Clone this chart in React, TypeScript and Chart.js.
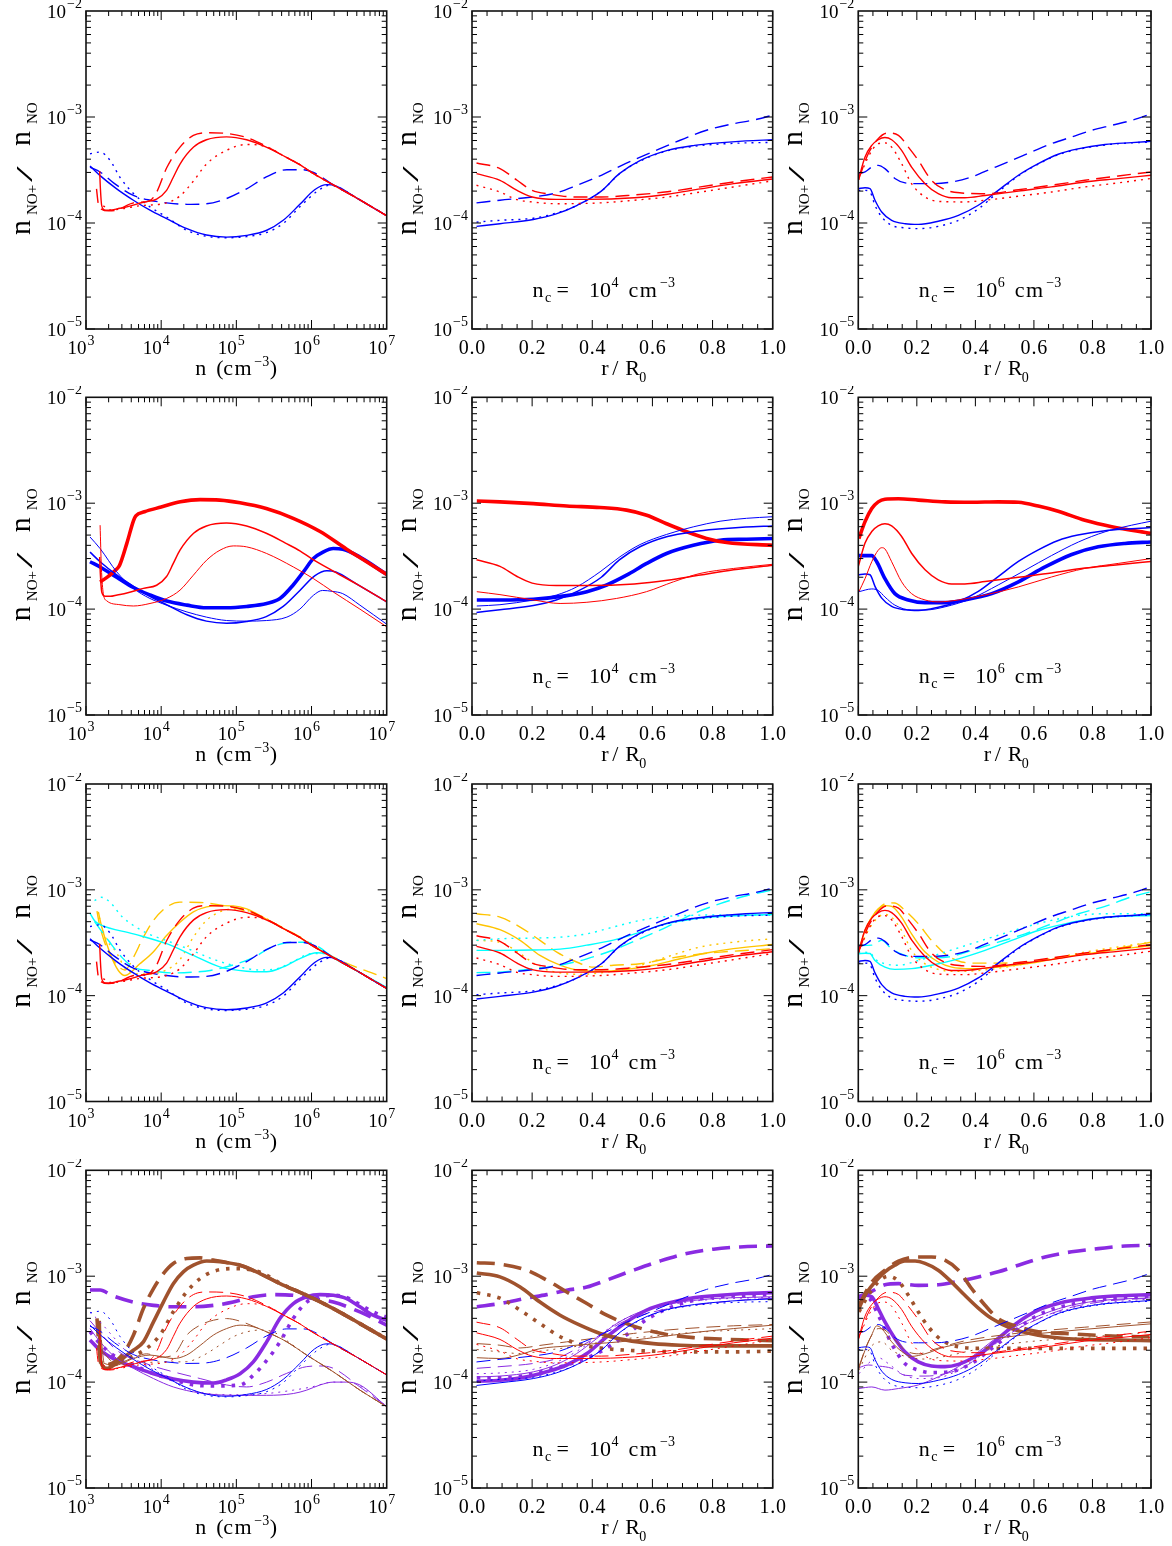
import { useEffect, useRef } from "react";
import { Chart, registerables } from "chart.js";

Chart.register(...registerables);

type Pt = [number, number];

// ---------------- colours ----------------
const RED = "#ff0000";
const BLUE = "#0000ff";
const CYAN = "#00ffff";
const GOLD = "#ffc400";
const BROWN = "#a0522d";
const PURPLE = "#8a2be2";

// ---------------- ticks / labels ----------------
const yMajorExps = [-5, -4, -3, -2];
const xLogMajorExps = [3, 4, 5, 6, 7];
const xLinMajor = [0, 0.2, 0.4, 0.6, 0.8, 1.0];
const xLinLabels = ["0.0", "0.2", "0.4", "0.6", "0.8", "1.0"];
const ncExponents = ["4", "6"];

// ================= Row 1 / shared red-blue =================
const p11RedSolid: Pt[] = [[1.52e3,3.1e-4],[1.55e3,2.2e-4],[1.62e3,1.45e-4],[1.8e3,1.32e-4],[2.1e3,1.32e-4],[2.6e3,1.36e-4],[3.5e3,1.42e-4],[5.8e3,1.57e-4],[8.7e3,1.68e-4],[1.18e4,2.03e-4],[1.45e4,2.7e-4],[1.78e4,3.6e-4],[2.7e4,5.2e-4],[4e4,6.1e-4],[7.4e4,6.5e-4],[1.37e5,6.1e-4],[2.5e5,5.2e-4],[4.5e5,4.2e-4],[7e5,3.55e-4],[1e6,3.0e-4],[2e6,2.26e-4],[4e6,1.72e-4],[1e7,1.17e-4]];
const p11RedDash: Pt[] = [[1.38e3,2.1e-4],[1.45e3,1.55e-4],[1.6e3,1.35e-4],[2e3,1.3e-4],[2.6e3,1.33e-4],[4.3e3,1.55e-4],[7e3,1.62e-4],[8.7e3,1.95e-4],[1.18e4,3.3e-4],[1.78e4,5.2e-4],[2.68e4,6.7e-4],[4e4,7.1e-4],[7.4e4,7.0e-4],[1.37e5,6.4e-4],[2.5e5,5.3e-4],[4.5e5,4.2e-4],[7e5,3.55e-4],[1e6,3.0e-4],[2e6,2.26e-4],[4e6,1.72e-4],[1e7,1.17e-4]];
const p11RedDot: Pt[] = [[1.7e3,1.45e-4],[2.1e3,1.33e-4],[3e3,1.36e-4],[5e3,1.45e-4],[1.18e4,1.55e-4],[1.78e4,1.8e-4],[2.7e4,2.5e-4],[4e4,3.6e-4],[7.4e4,4.85e-4],[1.37e5,5.5e-4],[2.5e5,5.25e-4],[4.5e5,4.2e-4],[7e5,3.55e-4],[1e6,3.0e-4],[2e6,2.26e-4],[4e6,1.72e-4],[1e7,1.17e-4]];
const p11BlueSolid: Pt[] = [[1.13e3,3.45e-4],[1.54e3,2.8e-4],[2.56e3,2.1e-4],[4.27e3,1.64e-4],[7.1e3,1.32e-4],[1.18e4,1.1e-4],[2.2e4,8.85e-5],[4e4,7.7e-5],[7.4e4,7.35e-5],[1.37e5,7.65e-5],[2.5e5,8.5e-5],[4.2e5,1.06e-4],[7e5,1.5e-4],[1.1e6,2.06e-4],[1.6e6,2.3e-4],[2.1e6,2.24e-4],[4e6,1.72e-4],[1e7,1.17e-4]];
const p11BlueDot: Pt[] = [[1.13e3,4.5e-4],[1.54e3,4.67e-4],[2.09e3,3.9e-4],[2.83e3,2.7e-4],[4.27e3,1.9e-4],[7.1e3,1.42e-4],[1.18e4,1.14e-4],[2.2e4,8.5e-5],[4e4,7.5e-5],[7.4e4,7.25e-5],[1.37e5,7.45e-5],[2.5e5,8.1e-5],[4.2e5,9.9e-5],[7e5,1.42e-4],[1.2e6,2.0e-4],[1.75e6,2.27e-4],[2.2e6,2.2e-4],[4e6,1.72e-4],[1e7,1.17e-4]];
const p11BlueDash: Pt[] = [[1.13e3,3.37e-4],[1.54e3,3.03e-4],[2.4e3,2.35e-4],[4.27e3,1.82e-4],[7.1e3,1.64e-4],[1.18e4,1.55e-4],[2.2e4,1.5e-4],[4e4,1.52e-4],[7.4e4,1.7e-4],[1.37e5,2.1e-4],[2.5e5,2.72e-4],[4.7e5,3.18e-4],[7.8e5,3.18e-4],[1.06e6,3.0e-4],[2e6,2.26e-4],[4e6,1.72e-4],[1e7,1.17e-4]];

const p12RedSolid: Pt[] = [[0.015,2.92e-4],[0.093,2.53e-4],[0.15,2.03e-4],[0.2,1.76e-4],[0.28,1.67e-4],[0.38,1.67e-4],[0.54,1.73e-4],[0.65,1.87e-4],[0.76,2.1e-4],[0.87,2.35e-4],[1.0,2.6e-4]];
const p12RedDash: Pt[] = [[0.015,3.68e-4],[0.093,3.26e-4],[0.15,2.53e-4],[0.2,2.03e-4],[0.26,1.87e-4],[0.34,1.76e-4],[0.43,1.76e-4],[0.54,1.84e-4],[0.65,1.97e-4],[0.76,2.19e-4],[0.87,2.44e-4],[1.0,2.72e-4]];
const p12RedDot: Pt[] = [[0.015,2.27e-4],[0.093,1.96e-4],[0.15,1.66e-4],[0.2,1.58e-4],[0.28,1.52e-4],[0.43,1.55e-4],[0.54,1.64e-4],[0.65,1.76e-4],[0.76,1.96e-4],[0.87,2.19e-4],[1.0,2.5e-4]];
const p12BlueSolid: Pt[] = [[0.015,9.3e-5],[0.093,9.85e-5],[0.204,1.08e-4],[0.28,1.22e-4],[0.35,1.47e-4],[0.43,2.0e-4],[0.49,2.92e-4],[0.56,3.9e-4],[0.65,4.85e-4],[0.74,5.4e-4],[0.82,5.7e-4],[0.91,5.95e-4],[1.0,6.1e-4]];
const p12BlueDot: Pt[] = [[0.015,1.02e-4],[0.093,1.06e-4],[0.204,1.11e-4],[0.28,1.24e-4],[0.35,1.47e-4],[0.43,2.0e-4],[0.49,2.9e-4],[0.56,3.85e-4],[0.65,4.8e-4],[0.74,5.3e-4],[0.82,5.55e-4],[0.91,5.7e-4],[1.0,5.75e-4]];
const p12BlueDash: Pt[] = [[0.015,1.55e-4],[0.093,1.64e-4],[0.2,1.76e-4],[0.28,1.92e-4],[0.35,2.27e-4],[0.43,2.82e-4],[0.51,3.63e-4],[0.6,4.68e-4],[0.69,6.0e-4],[0.78,7.5e-4],[0.87,8.65e-4],[0.94,9.4e-4],[1.0,1.04e-3]];

const p13RedSolid: Pt[] = [[0,2.53e-4],[0.023,4.2e-4],[0.046,5.4e-4],[0.068,6.1e-4],[0.091,6.4e-4],[0.114,6.1e-4],[0.148,4.85e-4],[0.182,3.37e-4],[0.228,2.35e-4],[0.273,1.89e-4],[0.319,1.73e-4],[0.364,1.73e-4],[0.433,1.82e-4],[0.547,2.0e-4],[0.66,2.19e-4],[0.774,2.44e-4],[0.888,2.62e-4],[1.0,2.82e-4]];
const p13RedDash: Pt[] = [[0,2.53e-4],[0.034,4.5e-4],[0.068,6.25e-4],[0.1,7.06e-4],[0.137,6.72e-4],[0.171,5.2e-4],[0.205,3.9e-4],[0.25,2.53e-4],[0.296,2.06e-4],[0.353,1.92e-4],[0.433,1.89e-4],[0.547,2.06e-4],[0.66,2.27e-4],[0.774,2.53e-4],[0.888,2.78e-4],[1.0,3.03e-4]];
const p13RedDot: Pt[] = [[0,2.53e-4],[0.034,4.2e-4],[0.068,5.6e-4],[0.091,5.7e-4],[0.114,5.2e-4],[0.148,3.63e-4],[0.182,2.35e-4],[0.228,1.76e-4],[0.273,1.6e-4],[0.364,1.58e-4],[0.433,1.64e-4],[0.547,1.79e-4],[0.66,1.96e-4],[0.774,2.19e-4],[0.888,2.39e-4],[1.0,2.63e-4]];
const p13BlueSolid: Pt[] = [[0,2.11e-4],[0.023,2.15e-4],[0.04,2.11e-4],[0.057,1.64e-4],[0.08,1.27e-4],[0.114,1.06e-4],[0.16,9.85e-5],[0.205,9.7e-5],[0.273,1.04e-4],[0.342,1.18e-4],[0.41,1.47e-4],[0.478,2.03e-4],[0.547,2.82e-4],[0.615,3.63e-4],[0.683,4.45e-4],[0.75,5.0e-4],[0.843,5.5e-4],[0.934,5.73e-4],[1.0,5.9e-4]];
const p13BlueDot: Pt[] = [[0,2.03e-4],[0.023,2.03e-4],[0.04,1.96e-4],[0.057,1.47e-4],[0.08,1.14e-4],[0.114,9.5e-5],[0.16,9.0e-5],[0.205,8.85e-5],[0.273,9.3e-5],[0.342,1.06e-4],[0.41,1.36e-4],[0.478,1.96e-4],[0.547,2.78e-4],[0.615,3.6e-4],[0.683,4.4e-4],[0.75,4.95e-4],[0.843,5.45e-4],[0.934,5.7e-4],[1.0,5.8e-4]];
const p13BlueDash: Pt[] = [[0,2.92e-4],[0.023,3.03e-4],[0.046,3.37e-4],[0.068,3.5e-4],[0.091,3.26e-4],[0.125,2.63e-4],[0.16,2.39e-4],[0.205,2.35e-4],[0.262,2.35e-4],[0.32,2.44e-4],[0.387,2.72e-4],[0.456,3.26e-4],[0.524,3.9e-4],[0.592,4.68e-4],[0.66,5.6e-4],[0.729,6.48e-4],[0.797,7.49e-4],[0.866,8.35e-4],[0.934,9.3e-4],[1.0,1.07e-3]];

// ================= Row 2 =================
const p21RedThick: Pt[] = [[1.54e3,1.8e-4],[2.0e3,2.05e-4],[2.5e3,2.35e-4],[2.8e3,2.6e-4],[3.5e3,4.2e-4],[4.3e3,6.9e-4],[4.6e3,7.6e-4],[6e3,8.3e-4],[1e4,9.2e-4],[1.8e4,1.03e-3],[3.3e4,1.08e-3],[6e4,1.07e-3],[1.12e5,1.01e-3],[2.5e5,8.9e-4],[5.7e5,7.2e-4],[1.3e6,5.4e-4],[2.9e6,3.7e-4],[5.4e6,2.8e-4],[1e7,2.12e-4]];
const p21RedThin: Pt[] = [[1.54e3,6.2e-4],[1.6e3,2.5e-4],[1.7e3,1.4e-4],[1.88e3,1.2e-4],[2.83e3,1.1e-4],[4.27e3,1.07e-4],[7.1e3,1.13e-4],[1.18e4,1.26e-4],[1.78e4,1.51e-4],[2.68e4,2.09e-4],[4.03e4,2.9e-4],[6.06e4,3.6e-4],[9.1e4,3.95e-4],[1.37e5,3.87e-4],[2.53e5,3.35e-4],[5.73e5,2.5e-4],[1.06e6,1.94e-4],[1.95e6,1.45e-4],[4.4e6,1.0e-4],[1e7,6.8e-5]];
const p21BlueThick: Pt[] = [[1.13e3,2.8e-4],[1.54e3,2.5e-4],[2.56e3,2.0e-4],[4.27e3,1.6e-4],[7.1e3,1.36e-4],[1.18e4,1.19e-4],[2.2e4,1.09e-4],[4e4,1.03e-4],[7.4e4,1.03e-4],[1.37e5,1.06e-4],[2.53e5,1.13e-4],[3.8e5,1.26e-4],[5.7e5,1.69e-4],[7.8e5,2.25e-4],[1.06e6,3.0e-4],[1.44e6,3.47e-4],[1.95e6,3.73e-4],[2.6e6,3.68e-4],[4.4e6,3.1e-4],[1e7,2.13e-4]];
const p21BlueThin: Pt[] = [[1.13e3,4.8e-4],[1.54e3,3.73e-4],[2.56e3,2.25e-4],[4.27e3,1.57e-4],[7.1e3,1.26e-4],[1.18e4,1.09e-4],[2.2e4,9.4e-5],[4e4,8.4e-5],[7.4e4,7.8e-5],[1.37e5,7.7e-5],[2.53e5,7.8e-5],[4.7e5,8.4e-5],[7e5,1.0e-4],[1.06e6,1.35e-4],[1.4e6,1.5e-4],[1.9e6,1.47e-4],[2.6e6,1.4e-4],[4.4e6,1.09e-4],[1e7,7.2e-5]];

const p22RedThick: Pt[] = [[0.016,1.05e-3],[0.093,1.03e-3],[0.204,9.9e-4],[0.315,9.4e-4],[0.426,9.1e-4],[0.514,8.6e-4],[0.581,7.7e-4],[0.647,6.4e-4],[0.714,5.37e-4],[0.78,4.65e-4],[0.847,4.25e-4],[1.0,4.0e-4]];
const p22RedThin: Pt[] = [[0.016,1.46e-4],[0.093,1.37e-4],[0.204,1.22e-4],[0.293,1.13e-4],[0.382,1.16e-4],[0.48,1.26e-4],[0.58,1.46e-4],[0.67,1.81e-4],[0.758,2.17e-4],[0.87,2.42e-4],[1.0,2.65e-4]];
const p22BlueThick: Pt[] = [[0.016,1.22e-4],[0.093,1.22e-4],[0.204,1.24e-4],[0.315,1.34e-4],[0.382,1.46e-4],[0.448,1.69e-4],[0.514,2.09e-4],[0.581,2.7e-4],[0.647,3.35e-4],[0.736,4.0e-4],[0.825,4.47e-4],[0.913,4.57e-4],[1.0,4.64e-4]];
const p22BlueThin: Pt[] = [[0.016,1.07e-4],[0.093,1.1e-4],[0.204,1.22e-4],[0.282,1.36e-4],[0.348,1.62e-4],[0.426,2.25e-4],[0.492,3.12e-4],[0.559,4.07e-4],[0.647,5.07e-4],[0.736,5.98e-4],[0.825,6.76e-4],[0.913,7.2e-4],[1.0,7.45e-4]];

const p23RedThick: Pt[] = [[0.002,4.64e-4],[0.023,6.7e-4],[0.046,8.9e-4],[0.068,1.03e-3],[0.091,1.09e-3],[0.137,1.1e-3],[0.205,1.07e-3],[0.296,1.03e-3],[0.387,1.02e-3],[0.478,1.03e-3],[0.547,1.02e-3],[0.615,9.4e-4],[0.683,8.4e-4],[0.774,6.9e-4],[0.866,6.0e-4],[1.0,5.2e-4]];
const p23RedThin: Pt[] = [[0.002,1.46e-4],[0.023,1.94e-4],[0.046,2.8e-4],[0.068,3.6e-4],[0.08,3.8e-4],[0.091,3.7e-4],[0.114,2.8e-4],[0.148,1.81e-4],[0.182,1.4e-4],[0.228,1.22e-4],[0.273,1.17e-4],[0.342,1.22e-4],[0.433,1.36e-4],[0.547,1.62e-4],[0.66,2.01e-4],[0.774,2.42e-4],[0.888,2.7e-4],[1.0,3.0e-4]];
const p23BlueThick: Pt[] = [[0.002,3.2e-4],[0.046,3.2e-4],[0.063,2.8e-4],[0.091,1.94e-4],[0.125,1.4e-4],[0.171,1.22e-4],[0.228,1.15e-4],[0.296,1.15e-4],[0.364,1.22e-4],[0.456,1.4e-4],[0.547,1.81e-4],[0.638,2.5e-4],[0.729,3.28e-4],[0.82,3.87e-4],[0.911,4.17e-4],[1.0,4.3e-4]];
const p23BlueThin: Pt[] = [[0.002,1.46e-4],[0.046,1.55e-4],[0.068,1.5e-4],[0.091,1.3e-4],[0.125,1.09e-4],[0.182,9.8e-5],[0.228,9.8e-5],[0.296,1.05e-4],[0.387,1.26e-4],[0.478,1.69e-4],[0.57,2.33e-4],[0.66,3.2e-4],[0.752,4.3e-4],[0.843,5.37e-4],[0.934,6.2e-4],[1.0,6.76e-4]];

// ================= Row 3 (cyan / gold) =================
const p31CyanSolid: Pt[] = [[1.13e3,6.0e-4],[1.3e3,5.1e-4],[1.54e3,4.7e-4],[4.27e3,3.84e-4],[1.18e4,3.1e-4],[2.68e4,2.4e-4],[6e4,1.87e-4],[1.37e5,1.7e-4],[2.53e5,1.68e-4],[4.2e5,1.87e-4],[7e5,2.24e-4],[1.17e6,2.54e-4],[1.5e6,2.5e-4],[2.2e6,2.2e-4],[4e6,1.72e-4],[1e7,1.2e-4]];
const p31CyanDash: Pt[] = [[1.3e3,5.0e-4],[2e3,3.3e-4],[3e3,2.3e-4],[4.27e3,1.86e-4],[7.1e3,1.73e-4],[1.5e4,1.64e-4],[2.7e4,1.67e-4],[4.5e4,1.73e-4],[9e4,1.95e-4],[1.7e5,2.3e-4],[3e5,2.9e-4],[5.7e5,3.2e-4],[8.5e5,3.2e-4],[1.17e6,2.96e-4],[2e6,2.26e-4],[4e6,1.72e-4],[1e7,1.17e-4]];
const p31CyanDot: Pt[] = [[1.3e3,7.9e-4],[1.6e3,8.5e-4],[2.1e3,7.6e-4],[3e3,5.6e-4],[4.5e3,4.5e-4],[7e3,3.8e-4],[1.2e4,3.3e-4],[2.5e4,2.7e-4],[5e4,2.2e-4],[1e5,1.9e-4],[2e5,1.75e-4],[3.5e5,1.8e-4],[6e5,2.15e-4],[1e6,2.5e-4],[1.5e6,2.5e-4],[2.2e6,2.2e-4],[4e6,1.72e-4],[1e7,1.18e-4]];
const p31GoldSolid: Pt[] = [[1.46e3,6.2e-4],[1.62e3,4.45e-4],[2.09e3,2.5e-4],[2.69e3,1.73e-4],[3.3e3,1.55e-4],[5.2e3,2.0e-4],[7.9e3,2.6e-4],[1.18e4,3.7e-4],[1.78e4,4.95e-4],[2.68e4,6.2e-4],[4.03e4,6.9e-4],[6.06e4,7.1e-4],[9.1e4,7.05e-4],[1.37e5,6.6e-4],[2.5e5,5.3e-4],[4.5e5,4.2e-4],[7e5,3.55e-4],[1e6,3.0e-4],[2e6,2.26e-4],[4e6,1.72e-4],[1e7,1.17e-4]];
const p31GoldDash: Pt[] = [[1.4e3,6.3e-4],[1.5e3,4.8e-4],[1.9e3,2.8e-4],[2.5e3,2.0e-4],[3.3e3,1.75e-4],[4.27e3,2.3e-4],[5.8e3,3.57e-4],[7.9e3,5.14e-4],[1.18e4,6.86e-4],[1.78e4,7.65e-4],[3.3e4,7.6e-4],[6e4,7.2e-4],[1e5,6.7e-4],[1.6e5,6.0e-4],[2.5e5,5.3e-4],[4.5e5,4.25e-4],[7e5,3.6e-4],[1e6,3.05e-4],[2e6,2.3e-4],[4e6,1.85e-4],[7e6,1.6e-4],[1e7,1.45e-4]];
const p31GoldDot: Pt[] = [[1.5e3,5.5e-4],[1.8e3,3.6e-4],[2.5e3,2.6e-4],[3.5e3,1.75e-4],[6e3,1.6e-4],[1.18e4,1.75e-4],[1.78e4,2.2e-4],[2.68e4,3.57e-4],[4e4,5.14e-4],[6.06e4,6.2e-4],[9.1e4,6.6e-4],[1.37e5,6.4e-4],[2.5e5,5.35e-4],[4.5e5,4.2e-4],[7e5,3.55e-4],[1e6,3.0e-4],[2e6,2.26e-4],[4e6,1.72e-4],[1e7,1.17e-4]];

const p32CyanSolid: Pt[] = [[0.015,2.68e-4],[0.093,2.68e-4],[0.204,2.7e-4],[0.293,2.75e-4],[0.382,3.0e-4],[0.47,3.35e-4],[0.559,3.98e-4],[0.647,4.77e-4],[0.736,5.3e-4],[0.825,5.6e-4],[0.913,5.75e-4],[1.0,5.85e-4]];
const p32CyanDash: Pt[] = [[0.015,1.65e-4],[0.093,1.67e-4],[0.204,1.8e-4],[0.293,1.94e-4],[0.382,2.23e-4],[0.47,2.7e-4],[0.559,3.45e-4],[0.647,4.45e-4],[0.736,5.94e-4],[0.825,7.4e-4],[0.913,8.8e-4],[1.0,1.0e-3]];
const p32CyanDot: Pt[] = [[0.015,3.33e-4],[0.093,3.45e-4],[0.2,3.5e-4],[0.293,3.57e-4],[0.382,3.84e-4],[0.47,4.45e-4],[0.559,5.14e-4],[0.647,5.6e-4],[0.736,5.75e-4],[0.825,5.8e-4],[0.913,5.8e-4],[1.0,5.75e-4]];
const p32GoldSolid: Pt[] = [[0.015,4.78e-4],[0.093,4.2e-4],[0.16,3.33e-4],[0.226,2.4e-4],[0.293,1.94e-4],[0.359,1.73e-4],[0.426,1.7e-4],[0.514,1.77e-4],[0.603,1.94e-4],[0.692,2.23e-4],[0.78,2.53e-4],[0.869,2.78e-4],[1.0,3.04e-4]];
const p32GoldDash: Pt[] = [[0.015,5.94e-4],[0.093,5.52e-4],[0.16,4.45e-4],[0.226,3.33e-4],[0.282,2.58e-4],[0.348,2.08e-4],[0.404,1.86e-4],[0.47,1.94e-4],[0.559,2.0e-4],[0.647,2.23e-4],[0.736,2.43e-4],[0.825,2.58e-4],[0.936,2.7e-4],[1.0,2.78e-4]];
const p32GoldDot: Pt[] = [[0.015,3.33e-4],[0.093,3.2e-4],[0.16,2.49e-4],[0.226,1.86e-4],[0.293,1.64e-4],[0.359,1.59e-4],[0.448,1.67e-4],[0.537,1.86e-4],[0.647,2.32e-4],[0.758,2.88e-4],[0.869,3.2e-4],[1.0,3.45e-4]];

const p33CyanSolid: Pt[] = [[0,2.49e-4],[0.023,2.52e-4],[0.04,2.5e-4],[0.057,2.15e-4],[0.091,1.86e-4],[0.125,1.77e-4],[0.182,1.8e-4],[0.25,1.94e-4],[0.342,2.23e-4],[0.433,2.68e-4],[0.524,3.33e-4],[0.615,4.13e-4],[0.706,4.77e-4],[0.797,5.33e-4],[0.888,5.6e-4],[1.0,5.73e-4]];
const p33CyanDash: Pt[] = [[0,2.98e-4],[0.046,3.0e-4],[0.08,3.33e-4],[0.114,2.77e-4],[0.16,2.4e-4],[0.205,2.28e-4],[0.25,2.28e-4],[0.319,2.35e-4],[0.387,2.68e-4],[0.478,3.2e-4],[0.57,3.84e-4],[0.66,4.77e-4],[0.752,5.94e-4],[0.843,6.97e-4],[0.934,8.6e-4],[1.0,9.6e-4]];
const p33CyanDot: Pt[] = [[0,2.58e-4],[0.04,2.55e-4],[0.057,2.22e-4],[0.091,2.0e-4],[0.137,1.94e-4],[0.205,2.15e-4],[0.296,2.58e-4],[0.387,3.1e-4],[0.478,3.72e-4],[0.57,4.45e-4],[0.66,5.14e-4],[0.752,5.73e-4],[0.843,5.94e-4],[1.0,5.94e-4]];
const p33GoldSolid: Pt[] = [[0,2.58e-4],[0.023,4.13e-4],[0.046,5.52e-4],[0.068,6.6e-4],[0.091,7.1e-4],[0.114,6.97e-4],[0.148,5.52e-4],[0.182,3.84e-4],[0.228,2.58e-4],[0.273,2.08e-4],[0.319,1.86e-4],[0.387,1.8e-4],[0.478,1.86e-4],[0.592,2.03e-4],[0.706,2.32e-4],[0.82,2.58e-4],[1.0,2.98e-4]];
const p33GoldDash: Pt[] = [[0,2.58e-4],[0.034,4.78e-4],[0.068,6.6e-4],[0.102,7.53e-4],[0.125,7.5e-4],[0.159,6.4e-4],[0.205,4.78e-4],[0.25,3.33e-4],[0.296,2.49e-4],[0.353,2.08e-4],[0.41,2.03e-4],[0.478,2.03e-4],[0.592,2.1e-4],[0.706,2.35e-4],[0.82,2.6e-4],[1.0,3.2e-4]];
const p33GoldDot: Pt[] = [[0,2.58e-4],[0.034,4.13e-4],[0.068,5.52e-4],[0.091,5.85e-4],[0.114,5.5e-4],[0.148,4.13e-4],[0.182,2.68e-4],[0.228,2.0e-4],[0.273,1.77e-4],[0.342,1.7e-4],[0.433,1.75e-4],[0.547,1.95e-4],[0.66,2.23e-4],[0.774,2.58e-4],[0.888,2.88e-4],[1.0,3.2e-4]];

// ================= Row 4 (brown / purple) =================
const p41BrownThick: Pt[] = [[1.5e3,3.8e-4],[1.56e3,1.6e-4],[1.88e3,1.35e-4],[2.56e3,1.5e-4],[3.48e3,1.8e-4],[4.27e3,2.0e-4],[5.8e3,2.4e-4],[7.9e3,3.7e-4],[1.07e4,5.7e-4],[1.45e4,8.5e-4],[1.97e4,1.1e-3],[2.68e4,1.27e-3],[4.03e4,1.39e-3],[6.06e4,1.37e-3],[1.12e5,1.27e-3],[2.06e5,1.06e-3],[3.81e5,8.5e-4],[8.63e5,6.6e-4],[1.95e6,4.95e-4],[4.4e6,3.57e-4],[1e7,2.55e-4]];
const p41BrownThickDash: Pt[] = [[1.4e3,4.0e-4],[1.5e3,2.0e-4],[1.6e3,1.45e-4],[2.2e3,1.5e-4],[3.2e3,1.9e-4],[4.27e3,2.77e-4],[5.8e3,4.95e-4],[7.9e3,7.65e-4],[1.07e4,1.06e-3],[1.45e4,1.32e-3],[2.18e4,1.47e-3],[3.3e4,1.49e-3],[4.95e4,1.42e-3],[7.4e4,1.35e-3],[1.12e5,1.27e-3],[2.06e5,1.06e-3],[3.81e5,8.5e-4],[8.63e5,6.6e-4],[1.95e6,4.95e-4],[4.4e6,3.57e-4],[1e7,2.55e-4]];
const p41BrownThickDot: Pt[] = [[2.1e3,1.4e-4],[3.5e3,1.65e-4],[6.4e3,2.08e-4],[9.6e3,2.77e-4],[1.45e4,4.61e-4],[2.18e4,7.1e-4],[3.3e4,9.5e-4],[4.95e4,1.11e-3],[9.1e4,1.18e-3],[1.68e5,1.14e-3],[2.53e5,1.02e-3],[3.81e5,8.6e-4],[8.63e5,6.6e-4],[1.95e6,4.95e-4],[4.4e6,3.57e-4],[1e7,2.55e-4]];
const p41BrownThin: Pt[] = [[1.6e3,2.5e-4],[1.75e3,1.5e-4],[2.5e3,1.45e-4],[4.27e3,1.67e-4],[7.1e3,1.8e-4],[9.6e3,1.75e-4],[1.45e4,1.67e-4],[2.18e4,1.8e-4],[3.3e4,2.22e-4],[4.95e4,2.78e-4],[7.4e4,3.2e-4],[1.12e5,3.45e-4],[1.68e5,3.33e-4],[2.53e5,2.98e-4],[4.68e5,2.4e-4],[8.63e5,1.8e-4],[1.95e6,1.25e-4],[4.4e6,8.4e-5],[1e7,5.85e-5]];
const p41BrownThinDash: Pt[] = [[1.6e3,2.0e-4],[2.5e3,1.5e-4],[4.27e3,1.7e-4],[6.4e3,1.85e-4],[9.6e3,1.72e-4],[1.45e4,1.8e-4],[2.18e4,2.77e-4],[3.3e4,3.45e-4],[4.95e4,3.84e-4],[7.4e4,3.98e-4],[1.12e5,3.76e-4],[1.9e5,3.25e-4],[2.53e5,2.98e-4],[4.68e5,2.4e-4],[8.63e5,1.8e-4],[1.95e6,1.25e-4],[4.4e6,8.4e-5],[1e7,5.85e-5]];
const p41BrownThinDot: Pt[] = [[2e3,1.4e-4],[4.27e3,1.5e-4],[1.18e4,1.55e-4],[2.18e4,1.56e-4],[3.7e4,1.8e-4],[6e4,2.23e-4],[9.1e4,2.68e-4],[1.37e5,2.98e-4],[2.06e5,3.1e-4],[3.1e5,2.98e-4],[4.2e5,2.6e-4],[8.63e5,1.8e-4],[1.95e6,1.25e-4],[4.4e6,8.4e-5],[1e7,5.85e-5]];
const p41PurpleThick: Pt[] = [[1.13e3,2.5e-4],[1.54e3,2.0e-4],[2.56e3,1.6e-4],[4.27e3,1.4e-4],[7.9e3,1.2e-4],[1.45e4,1.07e-4],[2.68e4,1.0e-4],[4.95e4,9.8e-5],[7.4e4,1.05e-4],[1.12e5,1.2e-4],[1.68e5,1.55e-4],[2.53e5,2.4e-4],[3.81e5,4.0e-4],[5.73e5,5.52e-4],[8.63e5,6.4e-4],[1.3e6,6.7e-4],[1.95e6,6.6e-4],[2.93e6,6.15e-4],[4.4e6,5.14e-4],[6.6e6,4.28e-4],[1e7,3.84e-4]];
const p41PurpleThickDash: Pt[] = [[1.13e3,7.4e-4],[1.54e3,7.4e-4],[2.2e3,6.6e-4],[4.27e3,5.7e-4],[7.9e3,5.3e-4],[1.45e4,5.14e-4],[2.68e4,5.14e-4],[4.95e4,5.3e-4],[9.1e4,5.7e-4],[1.68e5,6.4e-4],[3.1e5,6.7e-4],[5.73e5,6.6e-4],[1.06e6,6.15e-4],[1.95e6,5.7e-4],[4.4e6,4.6e-4],[1e7,3.45e-4]];
const p41PurpleThickDot: Pt[] = [[1.13e3,3.0e-4],[1.54e3,2.3e-4],[2.56e3,1.7e-4],[4.27e3,1.45e-4],[7.9e3,1.2e-4],[1.45e4,1.05e-4],[2.68e4,9.4e-5],[4.95e4,9.2e-5],[1.12e5,9.4e-5],[1.68e5,1.16e-4],[2.53e5,1.6e-4],[3.81e5,2.4e-4],[5.73e5,4.0e-4],[8.63e5,5.7e-4],[1.3e6,6.4e-4],[1.95e6,6.6e-4],[2.93e6,6.3e-4],[4.4e6,5.4e-4],[6.6e6,4.6e-4],[1e7,4.1e-4]];
const p41PurpleThin: Pt[] = [[1.13e3,3.2e-4],[1.54e3,2.4e-4],[2.56e3,1.67e-4],[4.27e3,1.35e-4],[7.9e3,1.08e-4],[1.45e4,9.0e-5],[3.3e4,7.9e-5],[9.1e4,7.5e-5],[2.53e5,7.5e-5],[5.73e5,7.8e-5],[8.63e5,8.4e-5],[1.3e6,9.4e-5],[1.95e6,1.0e-4],[2.93e6,1.0e-4],[4.4e6,9.4e-5],[1e7,5.85e-5]];
const p41PurpleThinDash: Pt[] = [[1.13e3,3.8e-4],[2.56e3,2.0e-4],[7.1e3,1.45e-4],[1.45e4,1.25e-4],[3.3e4,1.08e-4],[7.4e4,9.4e-5],[1.37e5,9.0e-5],[2.53e5,1.0e-4],[4.68e5,1.21e-4],[8.63e5,1.4e-4],[1.3e6,1.42e-4],[1.95e6,1.35e-4],[4.4e6,9.0e-5],[1e7,5.9e-5]];
const p41PurpleThinDot: Pt[] = [[1.13e3,4.6e-4],[1.54e3,3.7e-4],[2.3e3,2.68e-4],[3.5e3,1.93e-4],[5.2e3,1.55e-4],[9.6e3,1.21e-4],[1.78e4,9.4e-5],[3.3e4,8.0e-5],[1.0e5,7.6e-5],[2.53e5,7.8e-5],[5.73e5,8.4e-5],[1.0e6,9.0e-5],[1.95e6,1.0e-4],[2.93e6,1.0e-4],[4.4e6,9.2e-5],[1e7,5.9e-5]];

const p42BrownThick: Pt[] = [[0.016,1.07e-3],[0.093,9.85e-4],[0.16,7.9e-4],[0.226,5.7e-4],[0.293,4.28e-4],[0.359,3.45e-4],[0.426,2.88e-4],[0.514,2.49e-4],[0.603,2.31e-4],[0.692,2.23e-4],[0.78,2.2e-4],[0.869,2.2e-4],[1.0,2.2e-4]];
const p42BrownThickDash: Pt[] = [[0.016,1.34e-3],[0.093,1.3e-3],[0.182,1.14e-3],[0.248,9.2e-4],[0.315,7.1e-4],[0.382,5.52e-4],[0.448,4.28e-4],[0.514,3.57e-4],[0.581,3.1e-4],[0.647,2.82e-4],[0.736,2.63e-4],[0.825,2.55e-4],[0.913,2.5e-4],[1.0,2.46e-4]];
const p42BrownThickDot: Pt[] = [[0.016,6.96e-4],[0.093,6.2e-4],[0.16,4.78e-4],[0.226,3.57e-4],[0.293,2.68e-4],[0.359,2.27e-4],[0.426,2.1e-4],[0.514,2.0e-4],[0.603,1.96e-4],[0.692,1.93e-4],[0.78,1.93e-4],[0.869,1.93e-4],[1.0,1.96e-4]];
const p42BrownThin: Pt[] = [[0.016,1.7e-4],[0.093,1.67e-4],[0.16,1.82e-4],[0.226,2.07e-4],[0.315,2.19e-4],[0.404,2.3e-4],[0.492,2.4e-4],[0.581,2.58e-4],[0.67,2.78e-4],[0.758,2.98e-4],[0.869,3.2e-4],[1.0,3.45e-4]];
const p42BrownThinDash: Pt[] = [[0.016,2.31e-4],[0.093,2.23e-4],[0.16,2.1e-4],[0.226,2.22e-4],[0.315,2.4e-4],[0.426,2.63e-4],[0.537,2.88e-4],[0.647,3.1e-4],[0.758,3.27e-4],[0.869,3.4e-4],[1.0,3.5e-4]];
const p42BrownThinDot: Pt[] = [[0.016,2.03e-4],[0.093,1.93e-4],[0.16,1.86e-4],[0.248,2.0e-4],[0.359,2.2e-4],[0.47,2.5e-4],[0.581,2.68e-4],[0.692,2.88e-4],[0.803,3.02e-4],[1.0,3.2e-4]];
const p42PurpleThick: Pt[] = [[0.016,1.02e-4],[0.093,1.04e-4],[0.182,1.12e-4],[0.248,1.25e-4],[0.315,1.45e-4],[0.382,1.86e-4],[0.448,2.68e-4],[0.514,3.7e-4],[0.581,4.78e-4],[0.647,5.52e-4],[0.736,6.24e-4],[0.825,6.6e-4],[0.913,6.87e-4],[1.0,7.0e-4]];
const p42PurpleThickDash: Pt[] = [[0.016,5.14e-4],[0.093,5.52e-4],[0.182,6.2e-4],[0.248,6.7e-4],[0.315,7.37e-4],[0.382,7.9e-4],[0.448,9.2e-4],[0.537,1.14e-3],[0.625,1.39e-3],[0.714,1.64e-3],[0.803,1.8e-3],[0.891,1.89e-3],[1.0,1.93e-3]];
const p42PurpleThickDot: Pt[] = [[0.016,1.1e-4],[0.093,1.1e-4],[0.182,1.16e-4],[0.248,1.3e-4],[0.315,1.45e-4],[0.359,1.6e-4],[0.426,1.93e-4],[0.514,2.8e-4],[0.581,3.9e-4],[0.647,4.9e-4],[0.736,5.9e-4],[0.825,6.4e-4],[0.913,6.6e-4],[1.0,6.7e-4]];
const p42PurpleThin: Pt[] = [[0.016,1.12e-4],[0.093,1.14e-4],[0.204,1.25e-4],[0.282,1.47e-4],[0.348,1.86e-4],[0.415,2.58e-4],[0.481,3.57e-4],[0.559,4.6e-4],[0.647,5.4e-4],[0.736,5.9e-4],[0.825,6.2e-4],[0.913,6.3e-4],[1.0,6.4e-4]];
const p42PurpleThinDash: Pt[] = [[0.016,1.35e-4],[0.093,1.4e-4],[0.204,1.5e-4],[0.282,1.67e-4],[0.348,2.07e-4],[0.426,2.78e-4],[0.514,3.84e-4],[0.603,4.6e-4],[0.692,5.14e-4],[0.803,5.6e-4],[0.913,6.0e-4],[1.0,6.2e-4]];
const p42PurpleThinDot: Pt[] = [[0.016,1.2e-4],[0.093,1.22e-4],[0.204,1.32e-4],[0.282,1.55e-4],[0.348,1.95e-4],[0.415,2.65e-4],[0.481,3.6e-4],[0.559,4.55e-4],[0.647,5.3e-4],[0.736,5.8e-4],[0.825,6.1e-4],[1.0,6.3e-4]];

const p43BrownThick: Pt[] = [[0.002,4.95e-4],[0.023,6.6e-4],[0.046,8.1e-4],[0.068,9.5e-4],[0.091,1.1e-3],[0.125,1.27e-3],[0.159,1.39e-3],[0.194,1.39e-3],[0.228,1.32e-3],[0.273,1.14e-3],[0.319,8.8e-4],[0.364,6.6e-4],[0.41,5.0e-4],[0.456,3.98e-4],[0.524,3.2e-4],[0.615,2.77e-4],[0.706,2.58e-4],[0.797,2.52e-4],[0.888,2.49e-4],[1.0,2.46e-4]];
const p43BrownThickDash: Pt[] = [[0.002,5.3e-4],[0.046,8.8e-4],[0.091,1.14e-3],[0.137,1.39e-3],[0.205,1.52e-3],[0.25,1.52e-3],[0.296,1.42e-3],[0.342,1.14e-3],[0.387,7.65e-4],[0.433,5.32e-4],[0.478,3.98e-4],[0.547,3.33e-4],[0.615,2.98e-4],[0.706,2.88e-4],[0.797,2.78e-4],[0.888,2.7e-4],[1.0,2.68e-4]];
const p43BrownThickDot: Pt[] = [[0.002,4.6e-4],[0.034,6.6e-4],[0.068,8.8e-4],[0.102,1.0e-3],[0.137,9.0e-4],[0.171,6.6e-4],[0.205,4.6e-4],[0.239,3.33e-4],[0.285,2.49e-4],[0.342,2.15e-4],[0.433,2.08e-4],[0.547,2.08e-4],[0.66,2.08e-4],[0.774,2.08e-4],[1.0,2.08e-4]];
const p43BrownThin: Pt[] = [[0.002,1.35e-4],[0.023,2.0e-4],[0.046,2.8e-4],[0.063,3.4e-4],[0.08,3.2e-4],[0.114,2.4e-4],[0.148,1.95e-4],[0.182,1.75e-4],[0.228,1.85e-4],[0.296,2.15e-4],[0.433,2.5e-4],[0.547,2.75e-4],[0.66,2.95e-4],[0.774,3.15e-4],[0.888,3.35e-4],[1.0,3.55e-4]];
const p43BrownThinDash: Pt[] = [[0.002,1.4e-4],[0.034,2.4e-4],[0.068,3.2e-4],[0.091,3.1e-4],[0.125,2.5e-4],[0.16,2.0e-4],[0.205,1.85e-4],[0.262,2.05e-4],[0.364,2.45e-4],[0.547,2.9e-4],[0.774,3.3e-4],[1.0,3.7e-4]];
const p43BrownThinDot: Pt[] = [[0.002,1.3e-4],[0.046,2.2e-4],[0.08,2.4e-4],[0.114,2.0e-4],[0.16,1.75e-4],[0.228,1.65e-4],[0.296,1.75e-4],[0.41,2.05e-4],[0.547,2.35e-4],[0.774,2.65e-4],[1.0,2.95e-4]];
const p43PurpleThick: Pt[] = [[0.002,6.4e-4],[0.023,6.6e-4],[0.046,6.4e-4],[0.068,4.95e-4],[0.091,3.7e-4],[0.125,2.58e-4],[0.159,1.93e-4],[0.205,1.55e-4],[0.25,1.42e-4],[0.296,1.4e-4],[0.342,1.47e-4],[0.387,1.67e-4],[0.433,2.0e-4],[0.478,2.58e-4],[0.547,3.7e-4],[0.615,4.78e-4],[0.706,5.73e-4],[0.797,6.24e-4],[0.888,6.53e-4],[1.0,6.7e-4]];
const p43PurpleThickDash: Pt[] = [[0.002,6.4e-4],[0.046,7.2e-4],[0.091,8.3e-4],[0.137,8.5e-4],[0.205,8.2e-4],[0.273,8.3e-4],[0.342,8.97e-4],[0.41,9.85e-4],[0.478,1.1e-3],[0.547,1.27e-3],[0.638,1.52e-3],[0.729,1.7e-3],[0.82,1.82e-3],[0.911,1.93e-3],[1.0,1.96e-3]];
const p43PurpleThickDot: Pt[] = [[0.002,6.2e-4],[0.034,6.2e-4],[0.068,4.3e-4],[0.114,2.3e-4],[0.159,1.5e-4],[0.205,1.3e-4],[0.25,1.23e-4],[0.319,1.26e-4],[0.387,1.5e-4],[0.456,2.08e-4],[0.524,2.9e-4],[0.615,4.3e-4],[0.752,5.6e-4],[0.888,6.2e-4],[1.0,6.5e-4]];
const p43PurpleThin: Pt[] = [[0.002,8.7e-5],[0.046,9.0e-5],[0.091,8.4e-5],[0.137,8.7e-5],[0.205,9.4e-5],[0.273,1.12e-4],[0.342,1.4e-4],[0.41,1.93e-4],[0.478,2.68e-4],[0.547,3.45e-4],[0.638,4.46e-4],[0.729,5.33e-4],[0.843,5.94e-4],[1.0,6.25e-4]];
const p43PurpleThinDash: Pt[] = [[0.002,1.37e-4],[0.034,1.45e-4],[0.068,1.42e-4],[0.114,1.35e-4],[0.16,1.16e-4],[0.228,1.14e-4],[0.296,1.2e-4],[0.364,1.4e-4],[0.433,1.93e-4],[0.501,2.68e-4],[0.592,3.7e-4],[0.706,4.9e-4],[0.843,5.8e-4],[1.0,6.2e-4]];
const p43PurpleThinDot: Pt[] = [[0.002,1.2e-4],[0.046,1.6e-4],[0.068,1.7e-4],[0.102,1.5e-4],[0.148,1.2e-4],[0.205,1.08e-4],[0.273,1.1e-4],[0.342,1.3e-4],[0.41,1.75e-4],[0.478,2.45e-4],[0.57,3.5e-4],[0.683,4.6e-4],[0.82,5.5e-4],[1.0,6.1e-4]];

// ---------------- series specs ----------------
type Sty = "solid" | "dash" | "dot";
interface Ser { d: Pt[]; c: string; s: Sty; w: number }
interface Panel { row: number; col: number; xLog: boolean; note: string | null; series: Ser[] }
const S = (d: Pt[], c: string, s: Sty, w: number): Ser => ({ d, c, s, w });

const W1 = 1.4, WT = 1.0, WM = 1.5, WK = 3.6;

const rb = (rs: Pt[], rd: Pt[], rdo: Pt[], bs: Pt[], bd: Pt[], bdo: Pt[], w: number): Ser[] => [
  S(rs, RED, "solid", w), S(rd, RED, "dash", w), S(rdo, RED, "dot", w),
  S(bs, BLUE, "solid", w), S(bd, BLUE, "dash", w), S(bdo, BLUE, "dot", w),
];
const rb1 = (w: number) => rb(p11RedSolid, p11RedDash, p11RedDot, p11BlueSolid, p11BlueDash, p11BlueDot, w);
const rb2 = (w: number) => rb(p12RedSolid, p12RedDash, p12RedDot, p12BlueSolid, p12BlueDash, p12BlueDot, w);
const rb3 = (w: number) => rb(p13RedSolid, p13RedDash, p13RedDot, p13BlueSolid, p13BlueDash, p13BlueDot, w);

const PANELS: Panel[] = [
  { row: 0, col: 0, xLog: true, note: null, series: rb1(W1) },
  { row: 0, col: 1, xLog: false, note: ncExponents[0], series: rb2(W1) },
  { row: 0, col: 2, xLog: false, note: ncExponents[1], series: rb3(W1) },

  { row: 1, col: 0, xLog: true, note: null, series: [
    S(p21RedThin, RED, "solid", WT), S(p11RedSolid, RED, "solid", WM), S(p21BlueThin, BLUE, "solid", WT), S(p11BlueSolid, BLUE, "solid", WM),
    S(p21RedThick, RED, "solid", WK), S(p21BlueThick, BLUE, "solid", WK)] },
  { row: 1, col: 1, xLog: false, note: ncExponents[0], series: [
    S(p22RedThin, RED, "solid", WT), S(p12RedSolid, RED, "solid", WM), S(p22BlueThin, BLUE, "solid", WT), S(p12BlueSolid, BLUE, "solid", WM),
    S(p22RedThick, RED, "solid", WK), S(p22BlueThick, BLUE, "solid", WK)] },
  { row: 1, col: 2, xLog: false, note: ncExponents[1], series: [
    S(p23RedThin, RED, "solid", WT), S(p13RedSolid, RED, "solid", WM), S(p23BlueThin, BLUE, "solid", WT), S(p13BlueSolid, BLUE, "solid", WM),
    S(p23RedThick, RED, "solid", WK), S(p23BlueThick, BLUE, "solid", WK)] },

  { row: 2, col: 0, xLog: true, note: null, series: [...rb1(W1),
    S(p31CyanSolid, CYAN, "solid", W1), S(p31CyanDash, CYAN, "dash", W1), S(p31CyanDot, CYAN, "dot", W1),
    S(p31GoldSolid, GOLD, "solid", W1), S(p31GoldDash, GOLD, "dash", W1), S(p31GoldDot, GOLD, "dot", W1)] },
  { row: 2, col: 1, xLog: false, note: ncExponents[0], series: [...rb2(W1),
    S(p32CyanSolid, CYAN, "solid", W1), S(p32CyanDash, CYAN, "dash", W1), S(p32CyanDot, CYAN, "dot", W1),
    S(p32GoldSolid, GOLD, "solid", W1), S(p32GoldDash, GOLD, "dash", W1), S(p32GoldDot, GOLD, "dot", W1)] },
  { row: 2, col: 2, xLog: false, note: ncExponents[1], series: [...rb3(W1),
    S(p33CyanSolid, CYAN, "solid", W1), S(p33CyanDash, CYAN, "dash", W1), S(p33CyanDot, CYAN, "dot", W1),
    S(p33GoldSolid, GOLD, "solid", W1), S(p33GoldDash, GOLD, "dash", W1), S(p33GoldDot, GOLD, "dot", W1)] },

  { row: 3, col: 0, xLog: true, note: null, series: [...rb1(WT),
    S(p41BrownThin, BROWN, "solid", WT), S(p41BrownThinDash, BROWN, "dash", WT), S(p41BrownThinDot, BROWN, "dot", WT),
    S(p41PurpleThin, PURPLE, "solid", WT), S(p41PurpleThinDash, PURPLE, "dash", WT), S(p41PurpleThinDot, PURPLE, "dot", WT),
    S(p41BrownThick, BROWN, "solid", WK), S(p41BrownThickDash, BROWN, "dash", WK), S(p41BrownThickDot, BROWN, "dot", WK),
    S(p41PurpleThick, PURPLE, "solid", WK), S(p41PurpleThickDash, PURPLE, "dash", WK), S(p41PurpleThickDot, PURPLE, "dot", WK)] },
  { row: 3, col: 1, xLog: false, note: ncExponents[0], series: [...rb2(WT),
    S(p42BrownThin, BROWN, "solid", WT), S(p42BrownThinDash, BROWN, "dash", WT), S(p42BrownThinDot, BROWN, "dot", WT),
    S(p42PurpleThin, PURPLE, "solid", WT), S(p42PurpleThinDash, PURPLE, "dash", WT), S(p42PurpleThinDot, PURPLE, "dot", WT),
    S(p42BrownThick, BROWN, "solid", WK), S(p42BrownThickDash, BROWN, "dash", WK), S(p42BrownThickDot, BROWN, "dot", WK),
    S(p42PurpleThick, PURPLE, "solid", WK), S(p42PurpleThickDash, PURPLE, "dash", WK), S(p42PurpleThickDot, PURPLE, "dot", WK)] },
  { row: 3, col: 2, xLog: false, note: ncExponents[1], series: [...rb3(WT),
    S(p43BrownThin, BROWN, "solid", WT), S(p43BrownThinDash, BROWN, "dash", WT), S(p43BrownThinDot, BROWN, "dot", WT),
    S(p43PurpleThin, PURPLE, "solid", WT), S(p43PurpleThinDash, PURPLE, "dash", WT), S(p43PurpleThinDot, PURPLE, "dot", WT),
    S(p43BrownThick, BROWN, "solid", WK), S(p43BrownThickDash, BROWN, "dash", WK), S(p43BrownThickDot, BROWN, "dot", WK),
    S(p43PurpleThick, PURPLE, "solid", WK), S(p43PurpleThickDash, PURPLE, "dash", WK), S(p43PurpleThickDot, PURPLE, "dot", WK)] },
];

// ---------------- layout (page pixels) ----------------
const COLS = [
  { x: 0, w: 410, l: 86, r: 386.7 },
  { x: 395, w: 400, l: 472, r: 772.7 },
  { x: 781, w: 391, l: 858.3, r: 1151 },
];
const ROWS = [
  { t: 11, b: 329 },
  { t: 397.3, b: 715 },
  { t: 784, b: 1101.5 },
  { t: 1170.3, b: 1488 },
];
const CANVAS_H = 386;

function geom(row: number, col: number) {
  const c = COLS[col], r = ROWS[row];
  const y = Math.floor(r.t - 11);
  return {
    x: c.x, y, w: c.w, h: CANVAS_H,
    pad: { left: c.l - c.x, right: c.x + c.w - c.r, top: r.t - y, bottom: y + CANVAS_H - r.b },
  };
}

// ---------------- text helpers ----------------
const FF = '"Liberation Serif","Times New Roman",Times,serif';
const fnt = (px: number) => `${px}px ${FF}`;
function tw(ctx: CanvasRenderingContext2D, s: string, px: number) {
  ctx.font = fnt(px);
  return ctx.measureText(s).width;
}
function tx(ctx: CanvasRenderingContext2D, s: string, x: number, y: number, px: number, align: CanvasTextAlign = "left") {
  ctx.font = fnt(px);
  ctx.textAlign = align;
  ctx.fillText(s, x, y);
}
const MINUS = "\u2212";

function makeAxesPlugin(xLog: boolean, note: string | null) {
  return {
    id: "idlAxes",
    afterDraw(chart: any) {
      const ctx: CanvasRenderingContext2D = chart.ctx;
      const a = chart.chartArea;
      const xs = chart.scales.x, ys = chart.scales.y;
      ctx.save();
      ctx.strokeStyle = "#000";
      ctx.fillStyle = "#000";
      ctx.lineWidth = 1;
      ctx.beginPath();
      for (let e = -5; e <= -3; e++) {
        for (let k = 1; k <= 9; k++) {
          const p = ys.getPixelForValue(k * Math.pow(10, e));
          const len = k === 1 ? 9 : 5;
          ctx.moveTo(a.left, p); ctx.lineTo(a.left + len, p);
          ctx.moveTo(a.right, p); ctx.lineTo(a.right - len, p);
        }
      }
      if (xLog) {
        for (let e = 3; e <= 6; e++) {
          for (let k = 1; k <= 9; k++) {
            const p = xs.getPixelForValue(k * Math.pow(10, e));
            const len = k === 1 ? 9 : 5;
            ctx.moveTo(p, a.bottom); ctx.lineTo(p, a.bottom - len);
            ctx.moveTo(p, a.top); ctx.lineTo(p, a.top + len);
          }
        }
      } else {
        for (let i = 0; i <= 20; i++) {
          const p = xs.getPixelForValue(i * 0.05);
          const len = i % 4 === 0 ? 9 : 5;
          ctx.moveTo(p, a.bottom); ctx.lineTo(p, a.bottom - len);
          ctx.moveTo(p, a.top); ctx.lineTo(p, a.top + len);
        }
      }
      ctx.stroke();
      ctx.lineWidth = 1.6;
      ctx.strokeStyle = "#111";
      ctx.strokeRect(a.left, a.top, a.right - a.left, a.bottom - a.top);

      ctx.textBaseline = "alphabetic";
      // y tick labels: 10^-k
      for (const e of yMajorExps) {
        const p = ys.getPixelForValue(Math.pow(10, e));
        const sup = MINUS + Math.abs(e);
        const ws = tw(ctx, sup, 14);
        const wb = tw(ctx, "10", 19);
        const x0 = a.left - 4 - ws - 1 - wb;
        tx(ctx, "10", x0, p + 7, 19);
        tx(ctx, sup, x0 + wb + 1, p - 3, 14);
      }
      // x tick labels
      if (xLog) {
        for (const e of xLogMajorExps) {
          const p = xs.getPixelForValue(Math.pow(10, e));
          tx(ctx, "10", p + 0.5, a.bottom + 25, 19, "right");
          tx(ctx, String(e), p + 1.5, a.bottom + 16, 14, "left");
        }
      } else {
        (ctx as any).letterSpacing = "0.8px";
        xLinMajor.forEach((v, i) => {
          const p = xs.getPixelForValue(v);
          tx(ctx, xLinLabels[i], p + 0.4, a.bottom + 25, 20, "center");
        });
        (ctx as any).letterSpacing = "0px";
      }
      // x title
      const cx = (a.left + a.right) / 2;
      const tb = a.bottom + 46;
      if (xLog) {
        tx(ctx, "n", cx - 41, tb, 22);
        tx(ctx, "(", cx - 20, tb, 22);
        (ctx as any).letterSpacing = "1.5px";
        tx(ctx, "cm", cx - 13, tb, 22);
        (ctx as any).letterSpacing = "0px";
        tx(ctx, MINUS + "3", cx + 18, tb - 9, 14);
        tx(ctx, ")", cx + 33.5, tb, 22);
      } else {
        tx(ctx, "r", cx - 21, tb, 22);
        tx(ctx, "/", cx - 10, tb, 22);
        tx(ctx, "R", cx + 3, tb, 22);
        tx(ctx, "0", cx + 17, tb + 6.5, 14);
      }
      // y title (rotated, reading upward)
      const cy = (a.top + a.bottom) / 2;
      ctx.save();
      ctx.translate(a.left - 56, cy);
      ctx.rotate(-Math.PI / 2);
      tx(ctx, "n", -65, 0, 30);
      tx(ctx, "NO+", -45, 7, 15);
      ctx.save();
      ctx.translate(-12, 2);
      ctx.scale(1.9, 0.8);
      tx(ctx, "/", 0, 0, 30);
      ctx.restore();
      tx(ctx, "n", 24, 0, 30);
      tx(ctx, "NO", 46, 7, 15);
      ctx.restore();
      // n_c annotation
      if (note) {
        const x0 = a.left + 60.5;
        const b = a.bottom - 32.3;
        tx(ctx, "n", x0, b, 22);
        tx(ctx, "c", x0 + 12.5, b + 5, 14);
        tx(ctx, "=", x0 + 24, b, 22);
        tx(ctx, "10", x0 + 56.5, b, 22);
        tx(ctx, note, x0 + 79, b - 10, 14);
        (ctx as any).letterSpacing = "1.5px";
        tx(ctx, "cm", x0 + 96, b, 22);
        (ctx as any).letterSpacing = "0px";
        tx(ctx, MINUS + "3", x0 + 127.5, b - 10, 14);
      }
      ctx.restore();
    },
  };
}

function dashFor(s: Sty, w: number): number[] {
  if (s === "solid") return [];
  if (s === "dash") return w >= 3 ? [18, 9] : [14, 7];
  return w >= 3 ? [3.5, 7] : [2, 5];
}

export default function App() {
  const refs = useRef<(HTMLCanvasElement | null)[]>([]);

  useEffect(() => {
    const charts: Chart[] = [];
    PANELS.forEach((p, i) => {
      const cv = refs.current[i];
      if (!cv) return;
      const g = geom(p.row, p.col);
      const datasets = p.series.map((s) => ({
        data: s.d.map(([x, y]) => ({ x, y })),
        borderColor: s.c,
        backgroundColor: s.c,
        borderWidth: s.w,
        borderDash: dashFor(s.s, s.w),
        borderCapStyle: "butt" as const,
        borderJoinStyle: "round" as const,
        pointRadius: 0,
        pointHoverRadius: 0,
        fill: false,
        cubicInterpolationMode: "monotone" as const,
      }));
      const chart = new Chart(cv, {
        type: "line",
        data: { datasets },
        options: {
          responsive: false,
          animation: false,
          devicePixelRatio: 1,
          events: [],
          layout: { padding: g.pad },
          plugins: { legend: { display: false }, tooltip: { enabled: false } },
          scales: {
            x: p.xLog
              ? { type: "logarithmic", min: 1e3, max: 1e7, display: false }
              : { type: "linear", min: 0, max: 1, display: false },
            y: { type: "logarithmic", min: 1e-5, max: 1e-2, display: false },
          },
        } as any,
        plugins: [makeAxesPlugin(p.xLog, p.note)],
      });
      charts.push(chart);
    });
    return () => charts.forEach((c) => c.destroy());
  }, []);

  return (
    <div style={{ position: "absolute", left: 0, top: 0, width: 1172, height: 1546, background: "#fff", overflow: "hidden" }}>
      {PANELS.map((p, i) => {
        const g = geom(p.row, p.col);
        return (
          <canvas
            key={i}
            ref={(el) => { refs.current[i] = el; }}
            width={g.w}
            height={g.h}
            style={{ position: "absolute", left: g.x, top: g.y, width: g.w, height: g.h }}
          />
        );
      })}
    </div>
  );
}
